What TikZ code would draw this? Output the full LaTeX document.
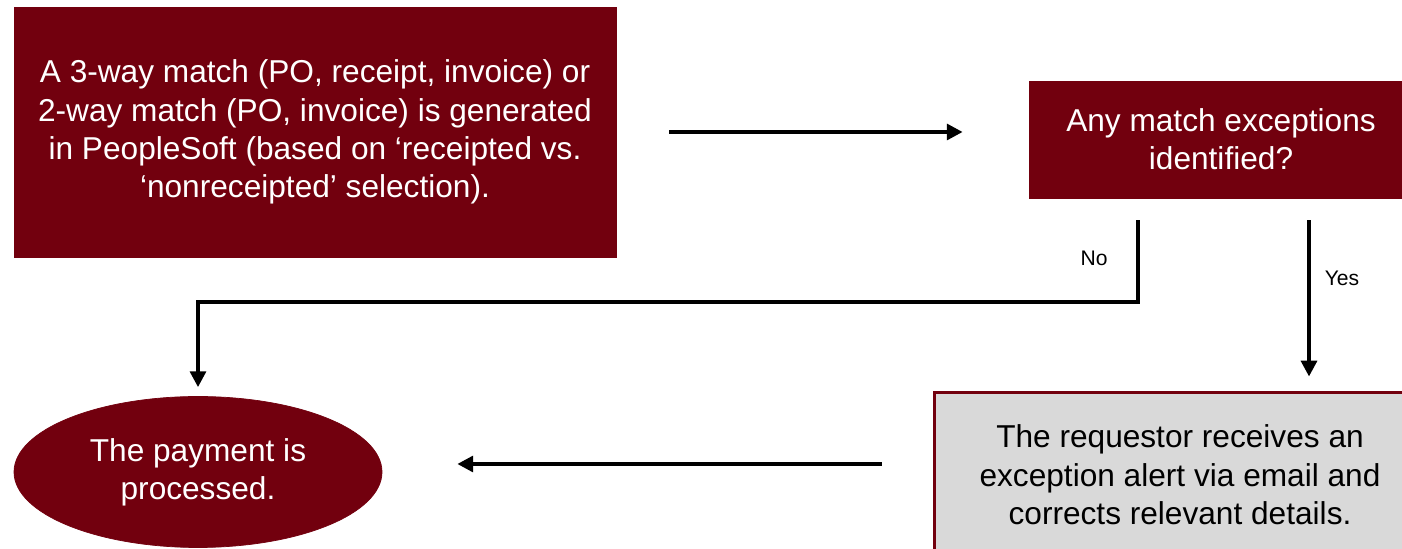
\documentclass[tikz,border=0pt]{standalone}
\usepackage{fontspec}
\setmainfont{Liberation Sans}
\usepackage{xcolor}
\usepackage{tikz}
\usetikzlibrary{arrows.meta, positioning, calc, shapes.geometric}
\definecolor{matchred}{RGB}{114, 0, 14}
\definecolor{alertgray}{RGB}{217, 217, 217}

\begin{document}
\begin{tikzpicture}[>={Triangle[length=9pt, width=9pt]},
    redbox/.style={rectangle, fill=matchred, draw=matchred, text=white, align=center,
      inner sep=0pt, font=\fontsize{18}{21.8}\selectfont},
    graybox/.style={rectangle, fill=alertgray, draw=matchred, line width=1.7pt, align=center,
      inner sep=0pt, font=\fontsize{18}{21.8}\selectfont},
    flowarrow/.style={->, line width=2.1pt},
    branchlabel/.style={font=\fontsize{12}{14}\selectfont}]
  \useasboundingbox (0,0) rectangle (28.04,10.98);

  % Boxes
  \node[redbox, minimum width=12.04cm, minimum height=5cm] (matchbox) at (6.3,8.34)
    {A 3-way match (PO, receipt, invoice) or\\2-way match (PO, invoice) is generated\\in PeopleSoft (based on ‘receipted vs.\\‘nonreceipted’ selection).};
  \node[redbox, minimum width=7.68cm, minimum height=2.34cm] (exceptbox) at (24.42,8.19)
    {Any match exceptions\\identified?};
  \node[graybox, minimum width=9.84cm, minimum height=3.28cm] (alertbox) at (23.6,1.48)
    {The requestor receives an\\exception alert via email and\\corrects relevant details.};
  \node[redbox, ellipse, minimum width=7.36cm, minimum height=3.02cm] (paybox) at (3.96,1.54)
    {The payment is\\processed.};

  % Helper coordinates for the connectors
  \coordinate (nobend) at (22.76,4.94);
  \coordinate (yesdrop) at (26.18,0);
  \coordinate (backrow) at (0,1.7);

  % Connectors
  \draw[flowarrow, shorten <=1.06cm, shorten >=1.32cm] (matchbox.east) -- (matchbox.east -| exceptbox.west);
  \draw[flowarrow, shorten <=0.44cm, shorten >=0.18cm] (nobend |- exceptbox.south) -- (nobend) -| (paybox.north);
  \draw[flowarrow, shorten <=0.44cm, shorten >=0.3cm] (yesdrop |- exceptbox.south) -- (yesdrop |- alertbox.north);
  \draw[flowarrow, shorten <=1.02cm, shorten >=1.5cm] (alertbox.west |- backrow) -- (paybox.east |- backrow);

  % Branch labels
  \node[branchlabel] (nolabel) at (21.88,5.82) {No};
  \node[branchlabel] (yeslabel) at (26.84,5.42) {Yes};
\end{tikzpicture}
\end{document}
